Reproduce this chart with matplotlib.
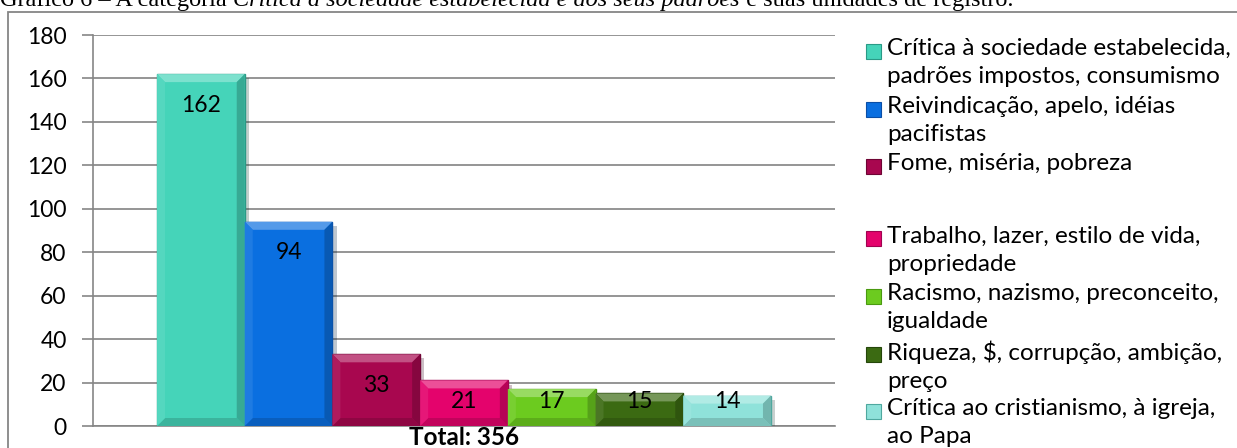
import matplotlib
matplotlib.use('Agg')
import matplotlib.pyplot as plt
import matplotlib.patches as mpatches
import matplotlib.patheffects as pe
from matplotlib.colors import to_rgb

labels = ['Crítica à sociedade estabelecida,\npadrões impostos, consumismo',
          'Reivindicação, apelo, idéias\npacifistas',
          'Fome, miséria, pobreza',
          'Trabalho, lazer, estilo de vida,\npropriedade',
          'Racismo, nazismo, preconceito,\nigualdade',
          'Riqueza, $, corrupção, ambição,\npreço',
          'Crítica ao cristianismo, à igreja,\nao Papa']
values = [162, 94, 33, 21, 17, 15, 14]
colors = ['#45d4b9', '#0a6fe0', '#a8074f', '#e4036c', '#6ccb1f', '#3b6a12', '#8fe2da']
edges = ['#2a9a86', '#0a4ea6', '#6e0434', '#a00250', '#4a9a10', '#25460a', '#4fa89f']
category = 'Total: 356'


def mix(c, other, k):
    c, o = to_rgb(c), to_rgb(other)
    return tuple(a * (1 - k) + b * k for a, b in zip(c, o))


W, H = 1237, 448
fig = plt.figure(figsize=(W / 100, H / 100), dpi=100)
font = 'Lato'

# outer chart frame
fig.patches.append(mpatches.Rectangle((8 / W, -0.1), 2, (H - 11.7) / H + 0.1,
                                      transform=fig.transFigure, fill=False,
                                      edgecolor='#868686', lw=1.3))

# caption (cut off at the top of the picture, as in the original)
pieces = [('Gráfico 6 – A categoria ', 'normal'),
          ('Crítica à sociedade estabelecida e aos seus padrões', 'italic'),
          (' e suas unidades de registro.', 'normal')]
r = fig.canvas.get_renderer()
xpos = 0.0
for txt, st in pieces:
    t = fig.text(xpos, 1 - 6 / H, txt, family='Liberation Serif', style=st,
                 fontsize=17.5, va='baseline', ha='left')
    bb = t.get_window_extent(renderer=r)
    xpos = bb.x1 / W

ax = fig.add_axes([93 / W, (H - 426) / H, (835 - 93) / W, (426 - 35) / H])
ax.set_xlim(-1.23, 7.23)
ax.set_ylim(0, 180)
x = list(range(len(values)))
bars = ax.bar(x, values, width=1.0, color=colors, edgecolor=edges, linewidth=1.0,
              zorder=3)
for b in bars:
    b.set_path_effects([pe.SimplePatchShadow(offset=(3, -3), alpha=0.25),
                        pe.Normal()])

# bevel bands on each bar
bx = 8 * 8.46 / 742
by = 8 * 180 / 391
for xi, v, c in zip(x, values, colors):
    l, rr = xi - 0.5, xi + 0.5
    bev = min(by, v / 3)
    top = [(l, v), (rr, v), (rr - bx, v - bev), (l + bx, v - bev)]
    bot = [(l, 0), (rr, 0), (rr - bx, bev), (l + bx, bev)]
    lft = [(l, 0), (l, v), (l + bx, v - bev), (l + bx, bev)]
    rgt = [(rr, 0), (rr, v), (rr - bx, v - bev), (rr - bx, bev)]
    for poly, fc in [(top, mix(c, 'white', 0.3)), (bot, mix(c, 'black', 0.15)),
                     (lft, mix(c, 'white', 0.08)), (rgt, mix(c, 'black', 0.2))]:
        ax.add_patch(mpatches.Polygon(poly, closed=True, facecolor=fc,
                                      edgecolor='none', zorder=3.5))

for xi, v in zip(x, values):
    ax.text(xi, max(v - 14.3, 11.5), str(v), ha='center', va='center',
            family=font, fontsize=16.5, zorder=4)

ax.set_yticks(range(0, 181, 20))
ax.set_xticks([3])
ax.set_xticklabels([category], family=font, fontsize=17.5, fontweight='bold')
ax.tick_params(axis='x', length=0, pad=0)
ax.tick_params(axis='y', length=8, width=1.2, color='#868686', pad=11)
for lb in ax.get_yticklabels():
    lb.set_family(font)
    lb.set_fontsize(16.5)
ax.grid(axis='y', color='#8c8c8c', lw=1.3, zorder=0)
for s in ['top', 'right']:
    ax.spines[s].set_visible(False)
for s in ['left', 'bottom']:
    ax.spines[s].set_color('#868686')
    ax.spines[s].set_linewidth(1.2)

# legend, drawn by hand to match the spacing of the original
leg_y = [51.7, 109.3, 166.7, 239, 296.7, 354.3, 411.7]
for lab, c, ec, yy in zip(labels, colors, edges, leg_y):
    fig.patches.append(mpatches.Rectangle((866 / W, 1 - (yy + 7.5) / H), 15 / W, 15 / H,
                                          transform=fig.transFigure, facecolor=c,
                                          edgecolor=ec, lw=0.8))
    fig.text(887 / W, 1 - (yy - 13.5) / H, lab, family=font, fontsize=17.5,
             va='top', ha='left', linespacing=1.42)

fig.savefig('out.png', dpi=100)
